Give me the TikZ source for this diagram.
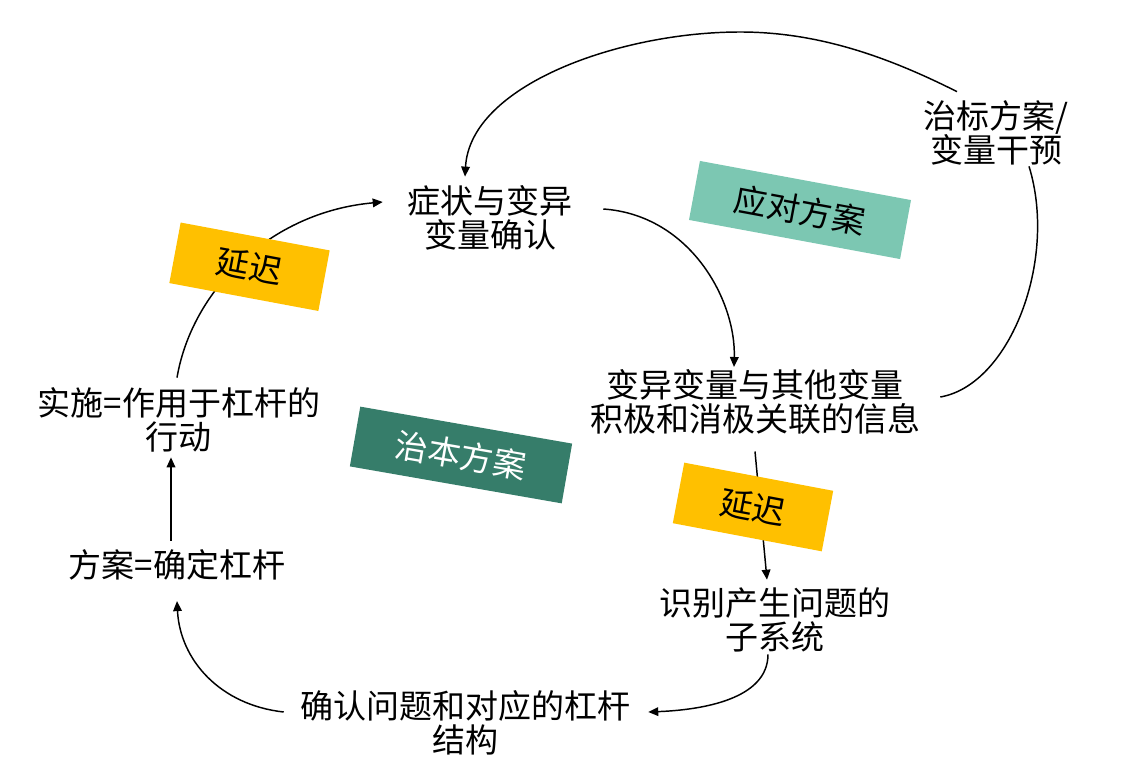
\documentclass[tikz,border=0pt]{standalone}
\usepackage{fontspec}
\newfontfamily\cjk{Noto Sans CJK SC}
\usetikzlibrary{arrows.meta}
\definecolor{delayc}{HTML}{FFC000}
\definecolor{darkg}{HTML}{367D6A}
\definecolor{lightg}{HTML}{7CC7B2}
\begin{document}
\begin{tikzpicture}[x=0.75pt,y=-0.75pt,
  txt/.style={font={\cjk\fontsize{24.75pt}{25.9pt}\selectfont\lineskiplimit=-30pt}, align=center, inner sep=0pt},
  conn/.style={line width=1.1pt, draw=black},
  arr/.style={conn, -{Triangle[length=7.5pt,width=6.5pt]}},
  tag/.style={font={\cjk\fontsize{24.75pt}{25.9pt}\selectfont}, inner sep=0pt},
  delaybox/.style={tag, fill=delayc, text=black, minimum width=113.7pt, minimum height=46.2pt},
  darkbox/.style={tag, fill=darkg, text=white, minimum width=161.3pt, minimum height=45.5pt},
  lightbox/.style={tag, fill=lightg, text=black, minimum width=161pt, minimum height=45pt}]
\useasboundingbox (0,0) rectangle (1121,773);
% text nodes
\node[txt] (a) at (490,218) {症状与变异\\变量确认};
\node[txt] (b) at (755,402) {变异变量与其他变量\\积极和消极关联的信息};
\node[txt] (c) at (775,620) {识别产生问题的\\子系统};
\node[txt] (d) at (465,723) {确认问题和对应的杠杆\\结构};
\node[txt] (e) at (177,565) {方案=确定杠杆};
\node[txt] (f) at (179,420) {实施=作用于杠杆的\\行动};
\node[txt] (g) at (996,133) {治标方案/\\变量干预};
\coordinate (toparc) at (740,32);
% connectors
\draw[arr] ([shift={(-2,-9.5)}]f.north) .. controls (192,290) and (270,212) .. ([shift={(-24.5,-16)}]a.west);
\draw[arr] ([shift={(30.5,-9)}]a.east) .. controls (690,215) and (736,300) .. ([shift={(-21,-2)}]b.north);
\draw[conn] ([shift={(20,-5)}]b.east) .. controls (1010,385) and (1058,260) .. ([shift={(33,0.5)}]g.south);
\draw[arr] ([shift={(-39,-8.5)}]g.north) .. controls (890,58) and (820,32) .. (toparc) .. controls (620,32) and (470,85) .. ([shift={(-25,-8.5)}]a.north);
\draw[arr] ([shift={(0,16.5)}]b.south) -- ([shift={(-8,-7.5)}]c.north);
\draw[arr] ([shift={(-7,1.5)}]c.south) .. controls (768,700) and (700,710) .. ([shift={(18,-11)}]d.east);
\draw[arr] ([shift={(-16,-11)}]d.west) .. controls (220,705) and (180,660) .. ([shift={(0,20.5)}]e.south);
\draw[arr] ([shift={(-6,-8.5)}]e.north) -- ([shift={(-8,4.5)}]f.south);
% tag boxes
\node[delaybox, rotate=-10.6] (d1) at (249.5,266.75) {延迟};
\node[delaybox, rotate=-10.7] (d2) at (753,507) {延迟};
\node[darkbox, rotate=-9.9] (zb) at (461,455) {治本方案};
\node[lightbox, rotate=-10.5] (yd) at (800,210) {应对方案};
\end{tikzpicture}
\end{document}
